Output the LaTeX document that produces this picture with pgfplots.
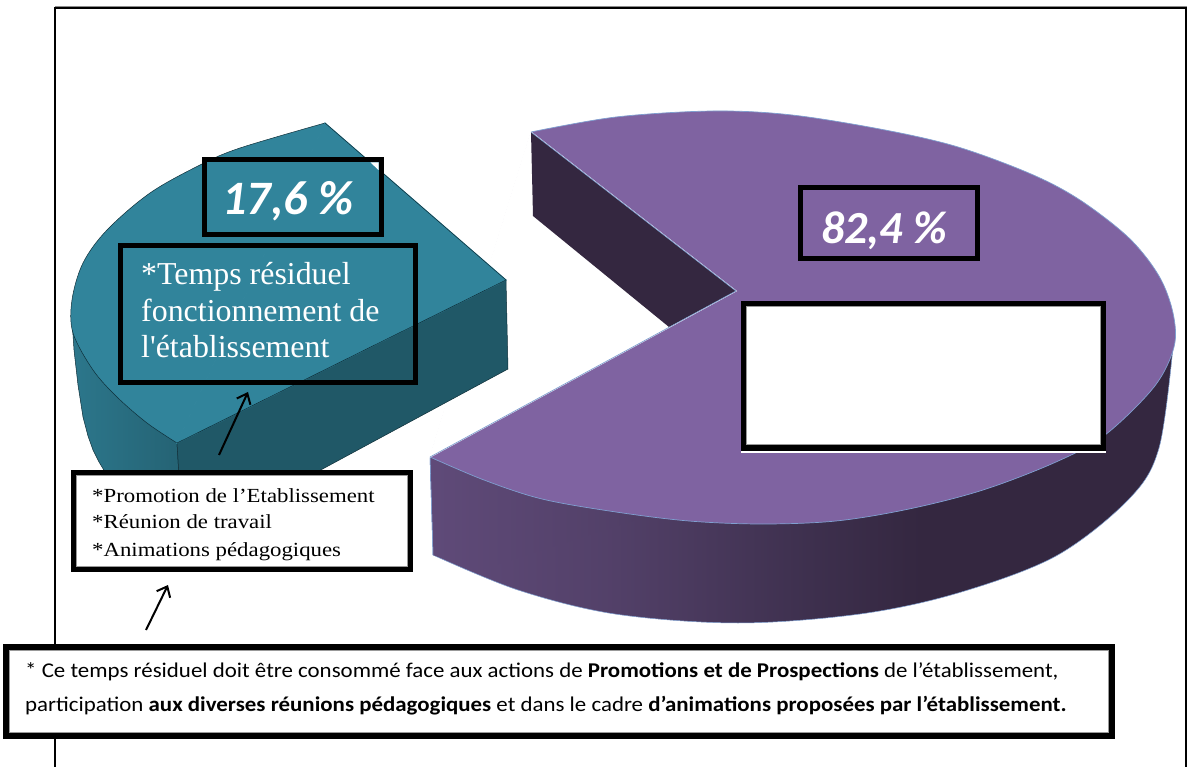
\documentclass[border=0pt]{standalone}
\usepackage{pgfplots}
\pgfplotsset{compat=1.18}
\usepackage{fontspec}
\setmainfont{Liberation Serif}
\newfontfamily\calfont{Carlito}
\newfontfamily\calwide{Carlito}[FakeStretch=1.09]
\newfontfamily\plainser{Liberation Serif}[Ligatures=TeXOff]
\newfontfamily\wideser{Liberation Serif}[FakeStretch=1.14]
\usetikzlibrary{arrows.meta}
\definecolor{tealtop}{HTML}{31849B}
\definecolor{tealdark}{HTML}{205867}
\definecolor{purptop}{HTML}{7F63A1}
\definecolor{purpdark}{HTML}{342740}
\definecolor{purpedge}{HTML}{7F9FD0}
\definecolor{tealedge}{HTML}{0E2E38}
\pgfdeclarehorizontalshading{purpside}{100bp}{color(0bp)=(purptop!75!black);color(25bp)=(purptop!75!black);color(37bp)=(purptop!65!black);color(50bp)=(purptop!50!black!90!purpdark);color(58bp)=(purpdark);color(100bp)=(purpdark)}
\pgfdeclarehorizontalshading{tealside}{100bp}{color(0bp)=(tealtop!90!black);color(25bp)=(tealtop!90!black);color(75bp)=(tealtop!75!black);color(100bp)=(tealtop!75!black)}
\begin{document}
\begin{tikzpicture}
\begin{axis}[
  width=1187pt,height=767pt,scale only axis,
  xmin=0,xmax=1187,ymin=0,ymax=767,y dir=reverse,
  axis lines=none,clip=true]
% page
\addplot[draw=none,fill=white] coordinates {(0,0)(1187,0)(1187,767)(0,767)} -- cycle;
% frame
\addplot[black!45,line width=1pt] coordinates {(55,6.5)(1187,6.5)};
\addplot[black,line width=2pt] coordinates {(55,767)(55,8)(1186,8)(1186,767)};
% purple side
\addplot[smooth,tension=0.55,shade,shading=purpside,draw=purpedge,line width=0.5pt] coordinates {
 (433,555)(518,590)(615,614)(738,623)(860,614)(958,593)(1056,556)(1129,499)(1159,448)(1173,347)};
\addplot[shade,shading=purpside,draw=none] coordinates {(430,457)(433,555)(480,570)(1173,347)} -- cycle;
\addplot[draw=purpedge,line width=0.5pt] coordinates {(430,457)(433,555)};
% purple top
\addplot[smooth,tension=0.55,fill=purptop,draw=purpedge,line width=0.7pt] coordinates {
 (531,132)(616,117)(713,111)(792,115)(885,130)(958,147)(1031,174)(1080,200)(1129,238)(1159,276)(1173,313)(1174,347)(1154,387)(1105,435)(1056,462)(983,490)(909,509)(836,521)(762,524)(689,521)(616,512)(542,499)(484,480)(430,457)};
% notch of the purple slice
\addplot[fill=white,draw=white,line width=1.2pt] coordinates {(531,132)(430,457)(736,291)} -- cycle;
\addplot[fill=purpdark,draw=none] coordinates {(531,132)(533,216)(669,327)(736,291)} -- cycle;
\addplot[draw=purpedge,line width=0.7pt] coordinates {(531,132)(736,291)(430,457)};
\addplot[draw=purpedge,line width=0.5pt] coordinates {(430,457)(433,555)};
% teal sides
\addplot[shade,shading=tealside,draw=tealedge,line width=0.5pt] coordinates {
 (72,320)(74,350)(78,385)(83,417)(88,436)(93,450)(99,462)(105,472)(179,476)(177,443)} -- cycle;
\addplot[fill=tealdark,draw=tealedge,line width=0.5pt] coordinates {(177,443)(179,476)(317,472)(508,369)(506,280)} -- cycle;
% teal top
\addplot[smooth,tension=0.55,fill=tealtop,draw=tealedge,line width=0.5pt] coordinates {
 (325,123)(240,148)(200,165)(150,193)(107,230)(83,263)(72,300)(73,333)(93,370)(117,397)(147,423)(177,443)};
\addplot[fill=tealtop,draw=tealtop,line width=1pt] coordinates {(325,123)(177,443)(506,280)} -- cycle;
\addplot[draw=tealedge,line width=0.5pt] coordinates {(325,123)(506,280)(177,443)};
% boxes
\addplot[draw=black,line width=5pt,fill=tealtop,line join=miter] coordinates {(204,160)(381,160)(381,235)(204,235)} -- cycle;
\addplot[fill=white,draw=none] coordinates {(370.5,162.5)(378.5,162.5)(378.5,170)} -- cycle;
\addplot[draw=black,line width=5pt,line join=miter] coordinates {(120.5,245.5)(415.5,245.5)(415.5,382.5)(120.5,382.5)} -- cycle;
\addplot[draw=black,line width=5pt,fill=purptop] coordinates {(800,188)(977,188)(977,259)(800,259)} -- cycle;
\addplot[draw=white,line width=1.5pt] coordinates {(741,452)(1106,452)};
\addplot[draw=black,line width=5pt,fill=white] coordinates {(743,304)(1103,304)(1103,448)(743,448)} -- cycle;
\addplot[draw=black!40,line width=1pt] coordinates {(746,307)(1100,307)(1100,445)(746,445)} -- cycle;
\addplot[draw=black,line width=5pt,fill=white] coordinates {(73.5,472.5)(410.5,472.5)(410.5,569.5)(73.5,569.5)} -- cycle;
\addplot[draw=black!40,line width=1pt] coordinates {(76.5,475.5)(407.5,475.5)(407.5,566.5)(76.5,566.5)} -- cycle;
\addplot[draw=black,line width=6pt,fill=white] coordinates {(6,647)(1112,647)(1112,736)(6,736)} -- cycle;
\addplot[draw=black!40,line width=1pt] coordinates {(9.5,650.5)(1108.5,650.5)(1108.5,732.5)(9.5,732.5)} -- cycle;
% arrows
\addplot[black,line width=2pt,-{Straight Barb[length=9pt,width=15pt]}] coordinates {(219,455)(248,392)};
\addplot[black,line width=2pt,-{Straight Barb[length=9pt,width=15pt]}] coordinates {(146,630)(168,585)};
% text
\node[text=white,font=\calfont\bfseries\itshape\fontsize{48}{52}\selectfont,anchor=base] at (axis cs:288,215) {17,6 \%};
\node[text=white,font=\calfont\bfseries\itshape\fontsize{46}{50}\selectfont,anchor=base] at (axis cs:884,244) {82,4 \%};
\node[text=white,font=\plainser\fontsize{31.9}{34}\selectfont,anchor=base west,inner sep=0pt] at (axis cs:141,285) {*Temps résiduel};
\node[text=white,font=\plainser\fontsize{31.9}{34}\selectfont,anchor=base west,inner sep=0pt] at (axis cs:141,322) {fonctionnement de};
\node[text=white,font=\plainser\fontsize{31.9}{34}\selectfont,anchor=base west,inner sep=0pt] at (axis cs:141,358) {l'établissement};
\node[font=\wideser\fontsize{20}{24}\selectfont,anchor=base west,inner sep=0pt] at (axis cs:92,502) {*Promotion de l’Etablissement};
\node[font=\wideser\fontsize{20}{24}\selectfont,anchor=base west,inner sep=0pt] at (axis cs:92,528) {*Réunion de travail};
\node[font=\wideser\fontsize{20}{24}\selectfont,anchor=base west,inner sep=0pt] at (axis cs:92,556) {*Animations pédagogiques};
\node[font=\calwide\fontsize{21}{24}\selectfont,anchor=base west,inner sep=0pt] at (axis cs:25,677) {* Ce temps résiduel doit être consommé face aux actions de \textbf{Promotions et de Prospections} de l’établissement,};
\node[font=\calwide\fontsize{21}{24}\selectfont,anchor=base west,inner sep=0pt] at (axis cs:25,711) {participation \textbf{aux diverses réunions pédagogiques} et dans le cadre \textbf{d’animations proposées par l’établissement.}};
\end{axis}
\end{tikzpicture}
\end{document}
